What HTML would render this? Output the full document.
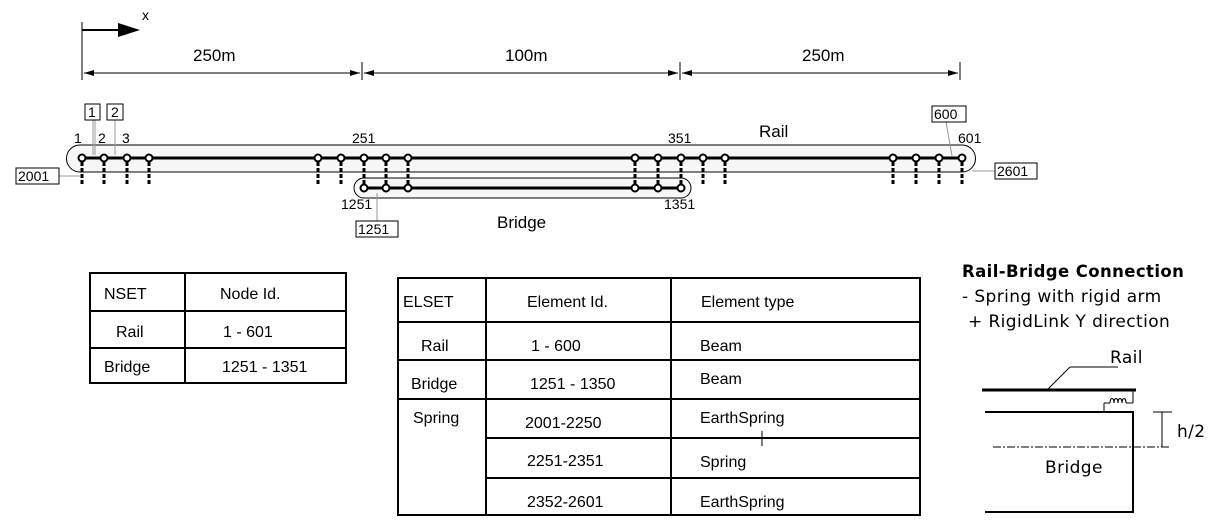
<!DOCTYPE html>
<html><head><meta charset="utf-8"><style>
body{margin:0;background:#fff;width:1218px;height:525px;overflow:hidden}
svg{display:block}
text{font-family:"Liberation Sans",sans-serif;fill:#000}
.d{font-family:"DejaVu Sans",sans-serif;letter-spacing:0.4px}
</style></head><body>
<svg width="1218" height="525" viewBox="0 0 1218 525">
<!-- x axis -->
<line x1="82" y1="22" x2="82" y2="80" stroke="#000"/>
<line x1="82" y1="30" x2="125" y2="30" stroke="#000" stroke-width="2"/>
<path d="M118,23 L140,30 L118,37Z"/>
<text x="142" y="20" font-size="14">x</text>
<!-- dimensions -->
<g stroke="#000">
<line x1="362" y1="62" x2="362" y2="80"/><line x1="680" y1="62" x2="680" y2="80"/><line x1="960" y1="62" x2="960" y2="80"/>
<line x1="84" y1="73" x2="360" y2="73"/>
<line x1="364" y1="73" x2="678" y2="73"/>
<line x1="682" y1="73" x2="958" y2="73"/>
</g>
<path d="M94,70 L84,73 L94,76Z M350,70 L360,73 L350,76Z M374,70 L364,73 L374,76Z M668,70 L678,73 L668,76Z M692,70 L682,73 L692,76Z M948,70 L958,73 L948,76Z"/>
<text x="193" y="61" font-size="17">250m</text>
<text x="505" y="61" font-size="17">100m</text>
<text x="802" y="61" font-size="17">250m</text>
<!-- bands -->
<path d="M80,145 H962 A13.5,13.5 0 0 1 962,172 H80 A13.5,13.5 0 0 1 80,145Z" fill="#f7f7f7" stroke="#000"/>
<path d="M364,178 H681 A10,10 0 0 1 681,198 H364 A10,10 0 0 1 364,178Z" fill="#f7f7f7" stroke="#000"/>
<!-- rail -->
<line x1="82" y1="158" x2="962" y2="158" stroke="#000" stroke-width="3"/>
<line x1="364" y1="188" x2="681" y2="188" stroke="#000" stroke-width="3"/>
<g stroke="#000" stroke-width="3" stroke-dasharray="4,2">
<line x1="82" y1="162" x2="82" y2="185"/><line x1="104" y1="162" x2="104" y2="185"/><line x1="127" y1="162" x2="127" y2="185"/><line x1="149" y1="162" x2="149" y2="185"/>
<line x1="318" y1="162" x2="318" y2="185"/><line x1="341" y1="162" x2="341" y2="185"/>
<line x1="703" y1="162" x2="703" y2="185"/><line x1="725" y1="162" x2="725" y2="185"/>
<line x1="893" y1="162" x2="893" y2="185"/><line x1="916" y1="162" x2="916" y2="185"/><line x1="939" y1="162" x2="939" y2="185"/><line x1="962" y1="162" x2="962" y2="185"/>
<line x1="364" y1="162" x2="364" y2="185"/><line x1="386" y1="162" x2="386" y2="185"/><line x1="408" y1="162" x2="408" y2="185"/>
<line x1="635" y1="162" x2="635" y2="185"/><line x1="658" y1="162" x2="658" y2="185"/><line x1="681" y1="162" x2="681" y2="185"/>
</g>
<g fill="#fff" stroke="#000" stroke-width="2">
<circle cx="82" cy="158" r="3.5"/><circle cx="104" cy="158" r="3.5"/><circle cx="127" cy="158" r="3.5"/><circle cx="149" cy="158" r="3.5"/>
<circle cx="318" cy="158" r="3.5"/><circle cx="341" cy="158" r="3.5"/><circle cx="364" cy="158" r="3.5"/><circle cx="386" cy="158" r="3.5"/><circle cx="408" cy="158" r="3.5"/>
<circle cx="635" cy="158" r="3.5"/><circle cx="658" cy="158" r="3.5"/><circle cx="681" cy="158" r="3.5"/><circle cx="703" cy="158" r="3.5"/><circle cx="725" cy="158" r="3.5"/>
<circle cx="893" cy="158" r="3.5"/><circle cx="916" cy="158" r="3.5"/><circle cx="939" cy="158" r="3.5"/><circle cx="962" cy="158" r="3.5"/>
<circle cx="364" cy="188" r="3.5"/><circle cx="386" cy="188" r="3.5"/><circle cx="408" cy="188" r="3.5"/>
<circle cx="635" cy="188" r="3.5"/><circle cx="658" cy="188" r="3.5"/><circle cx="681" cy="188" r="3.5"/>
</g>
<!-- labels -->
<g font-size="14">
<text x="74" y="143">1</text><text x="98" y="143">2</text><text x="122" y="143">3</text>
<text x="352" y="143">251</text><text x="668" y="143">351</text><text x="958" y="143">601</text>
<text x="341" y="209">1251</text><text x="664" y="209">1351</text>
</g>
<g stroke="#999" fill="none">
<line x1="93" y1="120" x2="93" y2="155"/><line x1="95" y1="120" x2="95" y2="155"/>
<line x1="115" y1="120" x2="115" y2="155"/>
<line x1="946" y1="122" x2="952" y2="156"/>
<line x1="59" y1="176" x2="80" y2="176"/>
<line x1="972" y1="171" x2="995" y2="171"/>
<line x1="377" y1="193" x2="377" y2="221"/>
</g>
<g fill="#fff" stroke="#000">
<rect x="85" y="104" width="15" height="16"/><rect x="107" y="104" width="16" height="16"/>
<rect x="932" y="106" width="34" height="16"/><rect x="16" y="168" width="43" height="16"/>
<rect x="995" y="163" width="42" height="16"/><rect x="356" y="221" width="42" height="16"/>
</g>
<g font-size="14">
<text x="88" y="117">1</text><text x="111" y="117">2</text><text x="934" y="119">600</text>
<text x="18" y="181">2001</text><text x="997" y="176">2601</text><text x="358" y="234">1251</text>
</g>
<text x="759" y="137" font-size="17">Rail</text>
<text x="497" y="228" font-size="17">Bridge</text>
<!-- NSET table -->
<g stroke="#000" stroke-width="2" fill="none">
<rect x="90" y="273" width="256" height="110"/>
<line x1="185" y1="273" x2="185" y2="383"/>
<line x1="90" y1="311" x2="346" y2="311"/><line x1="90" y1="348" x2="346" y2="348"/>
</g>
<g font-size="16">
<text x="104" y="299">NSET</text><text x="220" y="299">Node Id.</text>
<text x="116" y="337">Rail</text><text x="223" y="337">1 - 601</text>
<text x="104" y="372">Bridge</text><text x="222" y="372">1251 - 1351</text>
</g>
<!-- ELSET table -->
<g stroke="#000" stroke-width="2" fill="none">
<rect x="398" y="278" width="522" height="237"/>
<line x1="486" y1="278" x2="486" y2="515"/><line x1="671" y1="278" x2="671" y2="515"/>
<line x1="398" y1="322" x2="920" y2="322"/><line x1="398" y1="360" x2="920" y2="360"/>
<line x1="398" y1="399" x2="920" y2="399"/>
<line x1="486" y1="438" x2="920" y2="438"/><line x1="486" y1="478" x2="920" y2="478"/>
</g>
<line x1="762" y1="431" x2="762" y2="446" stroke="#000"/>
<g font-size="16">
<text x="403" y="307">ELSET</text><text x="527" y="307">Element Id.</text><text x="701" y="307">Element type</text>
<text x="421" y="351">Rail</text><text x="531" y="351">1 - 600</text><text x="700" y="351">Beam</text>
<text x="411" y="389">Bridge</text><text x="530" y="389">1251 - 1350</text><text x="700" y="384">Beam</text>
<text x="413" y="423">Spring</text><text x="525" y="428">2001-2250</text><text x="700" y="423">EarthSpring</text>
<text x="527" y="466">2251-2351</text><text x="700" y="467">Spring</text>
<text x="527" y="507">2352-2601</text><text x="700" y="507">EarthSpring</text>
</g>
<!-- right detail -->
<text class="d" x="962" y="277" font-size="16.5" font-weight="bold">Rail-Bridge Connection</text>
<text class="d" x="962" y="302" font-size="17">- Spring with rigid arm</text>
<text class="d" x="968" y="327" font-size="17">+ RigidLink Y direction</text>
<text class="d" x="1110" y="363" font-size="17">Rail</text>
<text class="d" x="1045" y="473" font-size="17">Bridge</text>
<text class="d" x="1177" y="437" font-size="17">h/2</text>
<g stroke="#000" fill="none">
<line x1="982" y1="390" x2="1136" y2="390" stroke-width="3"/>
<line x1="1048" y1="389" x2="1070" y2="367"/><line x1="1070" y1="367" x2="1118" y2="367"/>
<polyline points="985,412 1133,412 1133,512 985,512" stroke-width="2"/>
<line x1="993" y1="447" x2="1170" y2="447" stroke-dasharray="8,2,2,2"/>
<line x1="1162" y1="412" x2="1162" y2="447"/><line x1="1153" y1="412" x2="1172" y2="412"/>
<line x1="1104" y1="412" x2="1104" y2="403"/><line x1="1104" y1="403" x2="1110" y2="403"/>
<path d="M1110,403 c0,-6 4,-6 4,0 c0,-6 4,-6 4,0 c0,-6 4,-6 4,0 c0,-6 4,-6 4,0"/>
<line x1="1126" y1="403" x2="1133" y2="403"/><line x1="1133" y1="403" x2="1133" y2="391"/>
</g>
</svg>
</body></html>
